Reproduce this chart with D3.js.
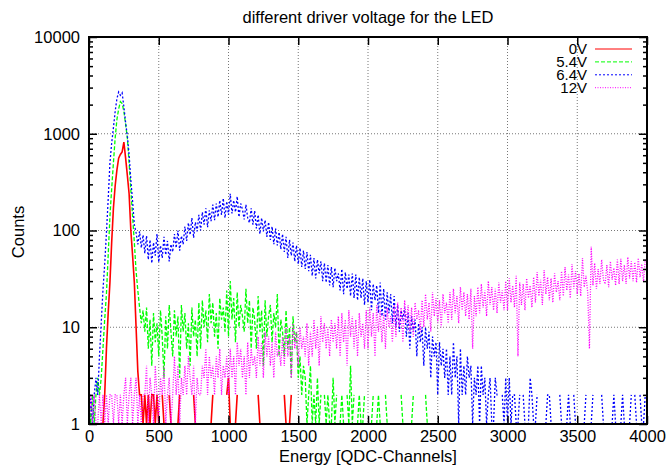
<!DOCTYPE html>
<html>
<head>
<meta charset="utf-8">
<script src="https://cdn.jsdelivr.net/npm/d3@7"></script>
<style>
body { margin: 0; background: #fff; }
text { font-family: "Liberation Sans", Arial, sans-serif; }
</style>
</head>
<body>
<div id="chart"></div>
<script>
// histogram counts, one value every 12.5 QDC channels starting at channel 0
const binWidth = 12.5;
const seriesNames = ["0V", "5.4V", "6.4V", "12V"];

const counts0V = [
  0, 0, 0, 0, 0, 0, 0, 0, 1, 2, 6, 14, 29, 75, 170, 290,
  420, 560, 610, 650, 820, 560, 370, 240, 100, 55, 29, 10, 3.5, 2, 2, 1,
  2, 1, 2, 1, 2, 2, 1, 2, 1, 0, 2, 1, 1, 0, 2, 1,
  0, 1, 0, 1, 2, 0, 0, 1, 0, 1, 0, 0, 2, 1, 0, 0,
  1, 0, 0, 1, 0, 0, 1, 2, 0, 0, 1, 0, 0, 1, 0, 2,
  3, 1, 0, 0, 1, 2, 0, 0, 1, 0, 0, 1, 0, 0, 2, 0,
  0, 2, 1, 0, 0, 1, 0, 0, 1, 0, 0, 2, 0, 0, 1, 0,
  2, 1, 0, 1, 2, 0, 0, 1, 0, 2, 0, 0, 1, 0, 0, 0
];

const counts54V = [
  2, 1, 2, 1, 2, 3, 2, 3, 6, 12, 22, 55, 140, 270, 500, 900,
  1400, 1800, 2150, 2050, 1700, 1250, 900, 500, 260, 140, 75, 38, 24, 16, 11, 15,
  9, 16, 6, 12, 4, 14, 7, 11, 5, 15, 8, 3, 13, 6, 17, 9,
  5, 15, 8, 13, 3, 17, 9, 14, 6, 11, 4, 16, 8, 12, 5, 18,
  6, 19, 10, 15, 7, 22, 11, 18, 8, 14, 6, 20, 12, 16, 9, 24,
  8, 30, 12, 20, 7, 23, 10, 17, 13, 9, 25, 11, 19, 6, 16, 12,
  6, 21, 9, 15, 4, 19, 8, 13, 17, 7, 14, 10, 22, 5, 12, 9,
  5, 15, 6, 10, 3, 13, 7, 9, 3, 5, 2, 4, 3, 1, 2, 4,
  1, 2, 1, 3, 1, 2, 0, 2, 1, 2, 1, 1, 3, 1, 2, 0,
  1, 2, 1, 0, 2, 1, 4, 1, 2, 0, 1, 2, 1, 1, 2, 0,
  2, 0, 1, 2, 0, 1, 2, 1, 1, 0, 2, 1, 0, 1, 1, 0,
  0, 1, 0, 2, 1, 0, 0, 1, 0, 1, 2, 0, 0, 1, 0, 0,
  0, 2, 1, 0, 1, 0, 0, 0, 1, 0, 0, 0, 0, 0, 0, 0
];

const counts64V = [
  1, 2, 1, 2, 3, 2, 5, 11, 24, 45, 95, 210, 500, 800, 1150, 1700,
  2300, 2700, 2500, 2650, 1900, 1300, 950, 600, 330, 200, 115, 95, 72, 98, 66, 90,
  58, 88, 50, 80, 46, 75, 55, 92, 47, 70, 52, 86, 56, 78, 48, 72,
  60, 92, 66, 100, 62, 88, 72, 110, 78, 120, 90, 135, 84, 122, 98, 145,
  100, 155, 115, 170, 108, 162, 125, 185, 128, 190, 138, 205, 145, 215, 135, 200,
  145, 240, 150, 205, 155, 225, 138, 190, 165, 130, 185, 135, 120, 170, 115, 160,
  105, 145, 92, 135, 98, 128, 86, 122, 80, 110, 72, 105, 70, 96, 64, 92,
  60, 86, 52, 80, 55, 75, 48, 70, 45, 66, 42, 62, 40, 60, 38, 56,
  34, 52, 32, 50, 36, 48, 30, 46, 29, 44, 27, 42, 26, 41, 30, 36,
  24, 40, 22, 37, 25, 35, 21, 36, 20, 35, 19, 33, 20, 32, 17, 30,
  18, 31, 15, 28, 19, 27, 14, 29, 13, 25, 12, 23, 14, 22, 11, 21,
  10, 17, 9, 15, 12, 16, 8, 14, 6, 13, 9, 12, 5, 11, 7, 10,
  4, 10, 6, 9, 3, 8, 5, 7, 2, 7, 4, 6, 3, 6, 2, 5,
  2, 7, 3, 5, 1, 6, 2, 4, 2, 5, 3, 4, 1, 3, 2, 4,
  1, 4, 2, 3, 1, 2, 3, 1, 1, 3, 2, 2, 0, 2, 1, 3,
  1, 3, 1, 2, 2, 1, 1, 2, 0, 2, 1, 1, 1, 3, 2, 1,
  1, 2, 0, 1, 1, 0, 1, 2, 2, 1, 0, 1, 1, 0, 2, 1,
  1, 0, 1, 2, 1, 0, 2, 1, 0, 1, 0, 0, 1, 2, 0, 0,
  1, 2, 0, 1, 0, 0, 2, 1, 0, 1, 0, 0, 1, 2, 1, 0,
  0, 1, 2, 1, 0, 0, 1, 2, 0, 2, 1, 0, 2, 1, 1, 2
];

const counts12V = [
  1, 2, 1, 2, 1, 1, 2, 1, 2, 1, 2, 1, 2, 2, 1, 2,
  2, 1, 2, 1, 2, 3, 1, 2, 3, 1, 2, 3, 1, 2, 1, 2,
  2, 4, 1, 3, 2, 1, 4, 2, 1, 3, 2, 4, 1, 2, 3, 1,
  2, 5, 2, 4, 1, 3, 2, 4, 2, 5, 3, 2, 4, 1, 3, 2,
  2, 4, 3, 6, 2, 5, 3, 4, 2, 5, 3, 6, 2, 4, 3, 5,
  2, 6, 3, 5, 2, 7, 4, 6, 3, 5, 2, 7, 3, 6, 4, 5,
  3, 8, 4, 7, 3, 9, 5, 8, 4, 7, 3, 9, 5, 6, 4, 8,
  4, 10, 5, 8, 3, 11, 6, 9, 4, 10, 6, 8, 5, 11, 4, 9,
  5, 12, 6, 10, 4, 13, 7, 11, 6, 10, 5, 12, 7, 11, 6, 13,
  5, 14, 7, 12, 4, 15, 8, 13, 6, 12, 5, 14, 8, 11, 6, 15,
  6, 16, 8, 14, 5, 17, 9, 15, 7, 14, 6, 16, 10, 13, 7, 17,
  8, 18, 10, 16, 7, 19, 11, 17, 9, 16, 8, 18, 12, 15, 9, 19,
  10, 22, 12, 18, 9, 23, 13, 20, 11, 19, 10, 22, 14, 18, 11, 23,
  12, 25, 14, 21, 11, 26, 15, 23, 13, 22, 12, 25, 6, 21, 13, 26,
  14, 28, 16, 24, 13, 30, 17, 26, 15, 25, 14, 29, 18, 24, 15, 30,
  15, 32, 18, 27, 16, 34, 5, 29, 17, 28, 15, 32, 20, 27, 16, 33,
  18, 37, 21, 31, 17, 39, 22, 33, 19, 32, 18, 36, 23, 30, 19, 38,
  21, 42, 24, 35, 20, 45, 25, 38, 22, 36, 21, 52, 26, 34, 23, 6,
  68, 27, 46, 25, 40, 28, 50, 31, 28, 44, 26, 48, 31, 41, 27, 50,
  28, 51, 30, 44, 28, 53, 32, 48, 30, 47, 29, 52, 33, 45, 30, 50
];

const xTicks = [0, 500, 1000, 1500, 2000, 2500, 3000, 3500, 4000];
const yTicks = [1, 10, 100, 1000, 10000];

const allCounts = [counts0V, counts54V, counts64V, counts12V];
const colors = ["#ff0000", "#00ff00", "#0000ff", "#ff00ff"];
const dashes = [null, "4,2", "2,2", "1,1.5"];

const W = 669, H = 466;
const margin = {top: 37, right: 22, bottom: 42, left: 89};
const svg = d3.select("#chart").append("svg")
    .attr("width", W).attr("height", H);

let xScale = d3.scaleLinear().domain([0, 4000]).range([margin.left, W - margin.right]);
let yScale = d3.scaleLog().domain([1, 10000]).range([H - margin.bottom, margin.top]);
const x0 = xScale.range()[0], x1 = xScale.range()[1];
const yb = yScale.range()[0], yt = yScale.range()[1];

// grid
svg.append("g").selectAll("line").data(xTicks.slice(1, -1)).enter().append("line")
    .attr("x1", d => xScale(d)).attr("x2", d => xScale(d))
    .attr("y1", yt).attr("y2", yb)
    .attr("stroke", "#777").attr("stroke-width", 1).attr("stroke-dasharray", "1,2");
svg.append("g").selectAll("line").data(yTicks.slice(1, -1)).enter().append("line")
    .attr("x1", x0).attr("x2", x1)
    .attr("y1", d => yScale(d)).attr("y2", d => yScale(d))
    .attr("stroke", "#777").attr("stroke-width", 1).attr("stroke-dasharray", "1,2");

// data
svg.append("clipPath").attr("id", "plotclip").append("rect")
    .attr("x", x0).attr("y", yt).attr("width", x1 - x0).attr("height", yb - yt);

let line = d3.line()
    .defined(d => d.v > 0)
    .x(d => xScale(d.ch))
    .y(d => yScale(d.v));

let plot = svg.append("g").attr("clip-path", "url(#plotclip)");
allCounts.forEach((arr, k) => {
    let pts = arr.map((v, i) => ({ch: i * binWidth, v: v}));
    plot.append("path").datum(pts)
        .attr("d", line)
        .attr("fill", "none")
        .attr("stroke", colors[k])
        .attr("stroke-width", k == 0 ? 1.6 : 1.3)
        .attr("stroke-dasharray", dashes[k]);
});

// axes
let minorTicks = [];
for (let dec = 1; dec < 10000; dec *= 10)
    for (let m = 2; m < 10; m++) minorTicks.push(dec * m);

function styleAxis(g) {
    g.select(".domain").remove();
    g.selectAll("line").attr("stroke", "#000").attr("stroke-width", 1.5);
    g.selectAll("text").attr("font-size", "16.5px")
        .attr("font-family", "'Liberation Sans', Arial, sans-serif").attr("fill", "#000");
}

svg.append("g").attr("transform", "translate(" + x0 + ",0)")
    .call(d3.axisLeft(yScale).tickValues(yTicks).tickFormat(d3.format("d"))
        .tickSizeInner(-8).tickSizeOuter(0).tickPadding(9))
    .call(styleAxis);
svg.append("g").attr("transform", "translate(" + x0 + ",0)")
    .call(d3.axisLeft(yScale).tickValues(minorTicks).tickFormat("").tickSizeInner(-4).tickSizeOuter(0))
    .call(styleAxis);
svg.append("g").attr("transform", "translate(" + x1 + ",0)")
    .call(d3.axisRight(yScale).tickValues(yTicks).tickFormat("").tickSizeInner(-8).tickSizeOuter(0))
    .call(styleAxis);
svg.append("g").attr("transform", "translate(" + x1 + ",0)")
    .call(d3.axisRight(yScale).tickValues(minorTicks).tickFormat("").tickSizeInner(-4).tickSizeOuter(0))
    .call(styleAxis);
svg.append("g").attr("transform", "translate(0," + yb + ")")
    .call(d3.axisBottom(xScale).tickValues(xTicks).tickFormat(d3.format("d"))
        .tickSizeInner(-8).tickSizeOuter(0).tickPadding(6))
    .call(styleAxis);
svg.append("g").attr("transform", "translate(0," + yt + ")")
    .call(d3.axisTop(xScale).tickValues(xTicks).tickFormat("").tickSizeInner(-8).tickSizeOuter(0))
    .call(styleAxis);

// border
svg.append("rect").attr("x", x0).attr("y", yt).attr("width", x1 - x0).attr("height", yb - yt)
    .attr("fill", "none").attr("stroke", "#000").attr("stroke-width", 2);

// legend
let legend = svg.append("g");
seriesNames.forEach((name, k) => {
    let ly = 49 + k * 12.9;
    legend.append("text").attr("x", 587).attr("y", ly + 5)
        .attr("text-anchor", "end").attr("font-size", "15px").text(name);
    legend.append("line").attr("x1", 595).attr("x2", 632).attr("y1", ly).attr("y2", ly)
        .attr("stroke", colors[k]).attr("stroke-width", 1).attr("stroke-dasharray", dashes[k]);
});

// labels
svg.append("text").attr("x", (x0 + x1) / 2).attr("y", 23).attr("text-anchor", "middle")
    .attr("font-size", "16.5px").text("different driver voltage for the LED");
svg.append("text").attr("x", (x0 + x1) / 2).attr("y", 462).attr("text-anchor", "middle")
    .attr("font-size", "16.5px").text("Energy [QDC-Channels]");
svg.append("text").attr("transform", "translate(24,232) rotate(-90)").attr("text-anchor", "middle")
    .attr("font-size", "16.5px").text("Counts");
</script>
</body>
</html>
